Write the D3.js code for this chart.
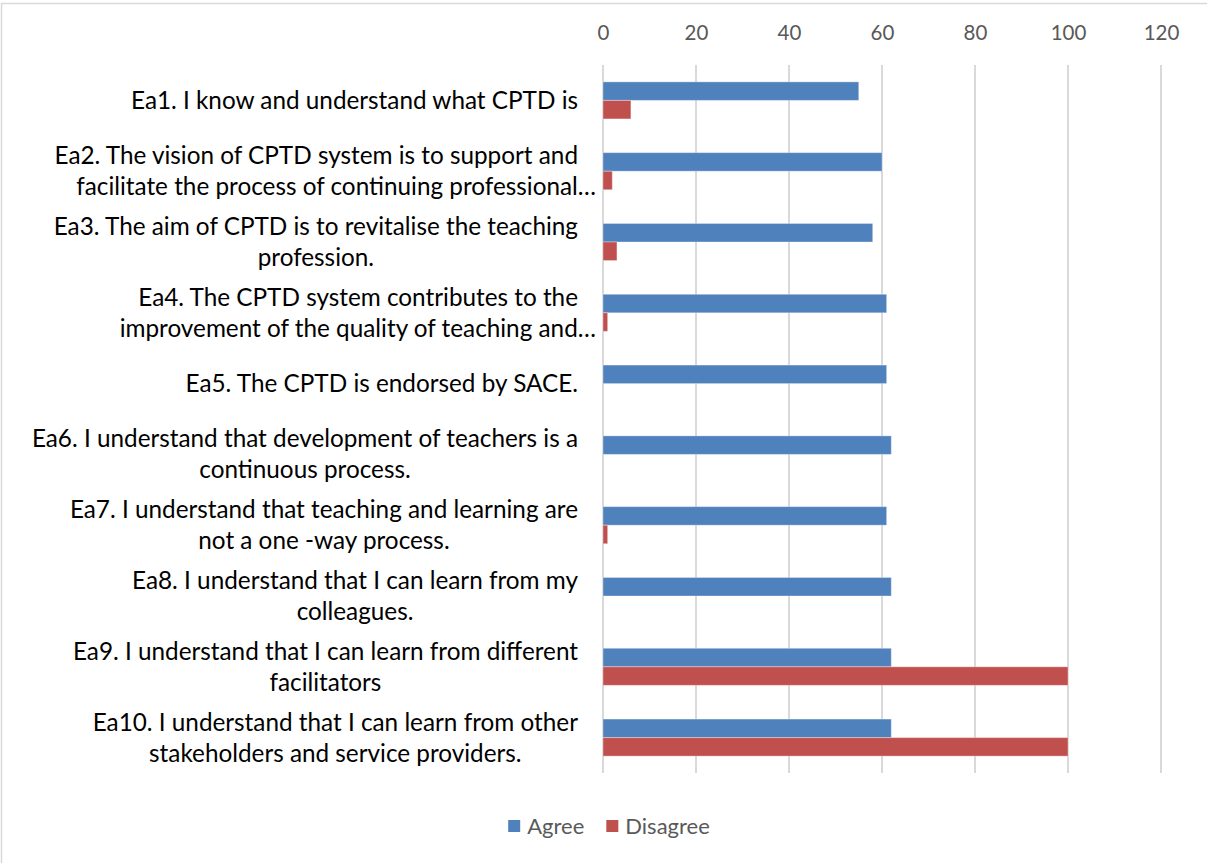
<!DOCTYPE html>
<html>
<head>
<meta charset="utf-8">
<script src="https://cdn.jsdelivr.net/npm/d3@7"></script>
<style>
  html, body { margin: 0; padding: 0; background: #fff; }
  svg { display: block; }
</style>
</head>
<body>
<svg id="chart" width="1207" height="863"></svg>
<script>
// Statements (each entry is the wrapped label lines as shown on the axis)
const categories = ["Ea1", "Ea2", "Ea3", "Ea4", "Ea5", "Ea6", "Ea7", "Ea8", "Ea9", "Ea10"];
const labelLines = [
  ["Ea1. I know and understand what CPTD is"],
  ["Ea2. The vision of CPTD system is to support and", "facilitate the process of continuing professional…"],
  ["Ea3. The aim of CPTD is to revitalise the teaching", "profession."],
  ["Ea4. The CPTD system contributes to the", "improvement of the quality of teaching and…"],
  ["Ea5. The CPTD is endorsed by SACE."],
  ["Ea6. I understand that development of teachers is a", "continuous process."],
  ["Ea7. I understand that teaching and learning are", "not a one -way process."],
  ["Ea8. I understand that I can learn from my", "colleagues."],
  ["Ea9. I understand that I can learn from different", "facilitators"],
  ["Ea10. I understand that I can learn from other", "stakeholders and service providers."]
];
const seriesNames = ["Agree", "Disagree"];
const agree    = [55, 60, 58, 61, 61, 62, 61, 62, 62, 62];
const disagree = [6, 2, 3, 1, 0, 0, 1, 0, 100, 100];
const xTicks = [0, 20, 40, 60, 80, 100, 120];
const colors = ["#4F81BD", "#C0504D"];

const W = 1207, H = 863;
const plot = { left: 603, right: 1161, top: 65, bottom: 773 };
const FONT = "Lato, 'Open Sans', sans-serif";

const svg = d3.select("#chart");

svg.append("rect").attr("x", 0).attr("y", 0).attr("width", W).attr("height", H).attr("fill", "#fff");
// Chart area border
svg.append("rect")
  .attr("x", 1.5).attr("y", 3.5).attr("width", W + 10).attr("height", H + 10)
  .attr("fill", "none").attr("stroke", "#d9d9d9").attr("stroke-width", 1.5);

const x = d3.scaleLinear().domain([0, 120]).range([plot.left, plot.right]);
const y = d3.scaleBand().domain(categories).range([plot.top, plot.bottom]).paddingInner(0).paddingOuter(0);
const ySub = d3.scaleBand().domain(seriesNames).range([0, y.bandwidth()]).paddingInner(0).paddingOuter(0.91);

// Vertical gridlines
svg.append("g").selectAll("line").data(xTicks).join("line")
  .attr("x1", d => x(d)).attr("x2", d => x(d))
  .attr("y1", plot.top).attr("y2", plot.bottom)
  .attr("stroke", "#d9d9d9").attr("stroke-width", 2);

// Value axis on top
const xAxis = d3.axisTop(x).tickValues(xTicks).tickSize(0).tickPadding(0);
const gx = svg.append("g").attr("transform", `translate(0, 40)`).call(xAxis);
gx.select(".domain").remove();
gx.selectAll("text")
  .attr("font-family", FONT).attr("font-size", 20.5).attr("fill", "#595959");

// Bars
const rows = categories.map((c, i) => ({ cat: c, values: [agree[i], disagree[i]] }));
const groups = svg.append("g").selectAll("g").data(rows).join("g")
  .attr("transform", d => `translate(0, ${y(d.cat)})`);
groups.selectAll("rect").data(d => d.values.map((v, j) => ({ key: seriesNames[j], v, j })))
  .join("rect")
  .filter(d => d.v > 0)
  .attr("x", x(0))
  .attr("y", d => ySub(d.key))
  .attr("width", d => x(d.v) - x(0))
  .attr("height", ySub.bandwidth())
  .attr("fill", d => colors[d.j])
  .attr("stroke", "rgba(255,255,255,0.35)").attr("stroke-width", 1);

// Category labels (centered lines, right-aligned block)
const labelRight = 578;
const lineH = 31;
const lab = svg.append("g").attr("font-family", FONT).attr("font-size", 24.3).attr("fill", "#000");
categories.forEach((c, i) => {
  const lines = labelLines[i];
  const cy = y(c) + y.bandwidth() / 2;
  const texts = lines.map((ln, k) => lab.append("text")
    .attr("y", cy + (k - (lines.length - 1) / 2) * lineH)
    .attr("dy", "0.35em")
    .text(ln));
  const widths = texts.map(t => t.node().getComputedTextLength());
  const full = lines.map(ln => !ln.endsWith("…"));
  const maxW = d3.max(widths.filter((w, k) => full[k]));
  const center = labelRight - maxW / 2;
  texts.forEach((t, k) => {
    if (full[k]) t.attr("x", center).attr("text-anchor", "middle");
    else t.attr("x", plot.left - 7).attr("text-anchor", "end");
  });
});

// Legend
const legend = svg.append("g").attr("font-family", FONT).attr("font-size", 22).attr("fill", "#595959");
const items = legend.selectAll("g").data(seriesNames).join("g");
items.append("rect").attr("width", 12).attr("height", 12).attr("y", -6).attr("fill", (d, i) => colors[i]);
items.append("text").attr("x", 19).attr("dy", "0.35em").text(d => d);
let lx = 0;
const gap = 22;
items.each(function() {
  const g = d3.select(this);
  g.attr("transform", `translate(${lx},0)`);
  lx += 19 + g.select("text").node().getComputedTextLength() + gap;
});
lx -= gap;
legend.attr("transform", `translate(${609 - lx / 2}, 826)`);
</script>
</body>
</html>
